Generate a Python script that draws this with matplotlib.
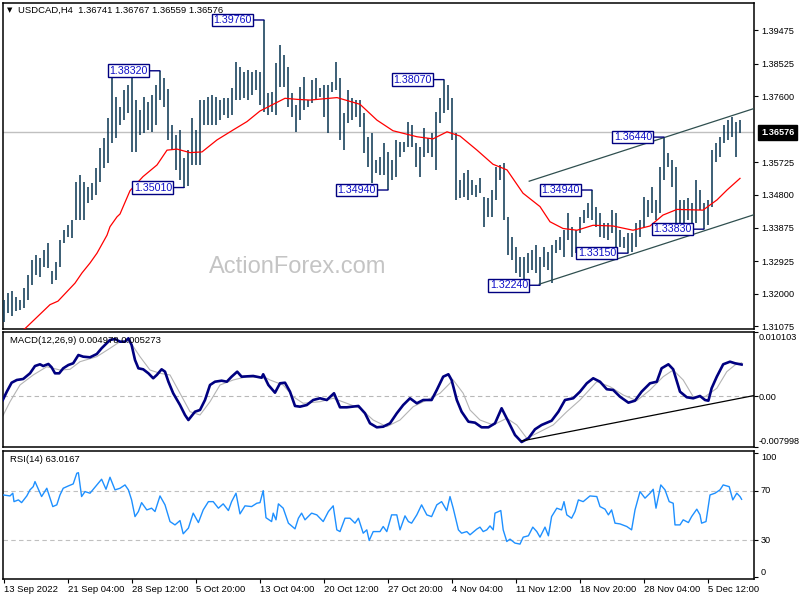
import numpy as np
import matplotlib
matplotlib.use("Agg")
import matplotlib.pyplot as plt
from matplotlib.transforms import blended_transform_factory

plt.rcParams['font.family'] = ['Liberation Sans', 'DejaVu Sans']

# ---------------- data ----------------
symbol = "USDCAD,H4"
last_ohlc = [1.36741, 1.36767, 1.36559, 1.36576]

# price bars (each = two H4 bars), prices in 1/10000
high_pips = [13182, 13202, 13208, 13191, 13182, 13216, 13253, 13295, 13310, 13301,
             13324, 13344, 13264, 13290, 13352, 13380, 13395, 13409, 13517, 13536,
             13517, 13502, 13514, 13556, 13613, 13641, 13698, 13811, 13758, 13729,
             13777, 13792, 13820, 13749, 13721, 13758, 13743, 13763, 13792, 13832,
             13811, 13780, 13678, 13650, 13664, 13585, 13607, 13698, 13664, 13749,
             13749, 13758, 13763, 13758, 13749, 13755, 13755, 13783, 13857, 13843,
             13828, 13834, 13828, 13834, 13828, 13976, 13769, 13772, 13854, 13905,
             13877, 13843, 13769, 13735, 13786, 13814, 13749, 13806, 13811, 13783,
             13792, 13792, 13800, 13857, 13811, 13712, 13777, 13755, 13749, 13749,
             13712, 13644, 13655, 13579, 13587, 13627, 13602, 13579, 13636, 13630,
             13630, 13687, 13678, 13627, 13616, 13670, 13641, 13655, 13715, 13755,
             13807, 13792, 13755, 13655, 13522, 13542, 13551, 13522, 13508, 13528,
             13474, 13471, 13494, 13559, 13565, 13570, 13417, 13361, 13332, 13304,
             13304, 13315, 13324, 13338, 13304, 13332, 13318, 13338, 13352, 13361,
             13380, 13429, 13389, 13380, 13417, 13437, 13457, 13494, 13446, 13429,
             13400, 13400, 13437, 13429, 13380, 13361, 13372, 13372, 13400, 13409,
             13474, 13466, 13502, 13466, 13559, 13644, 13599, 13579, 13559, 13466,
             13466, 13471, 13457, 13522, 13494, 13457, 13466, 13607, 13627, 13644,
             13678, 13692, 13701, 13687, 13692]
low_pips = [13120, 13145, 13137, 13151, 13154, 13159, 13182, 13225, 13253, 13247,
            13276, 13273, 13227, 13239, 13276, 13344, 13361, 13358, 13409, 13409,
            13409, 13457, 13466, 13480, 13517, 13556, 13570, 13627, 13641, 13678,
            13692, 13712, 13602, 13602, 13650, 13655, 13664, 13658, 13678, 13749,
            13729, 13636, 13607, 13551, 13522, 13501, 13505, 13565, 13565, 13565,
            13678, 13678, 13678, 13678, 13692, 13707, 13698, 13707, 13749, 13749,
            13755, 13749, 13763, 13777, 13735, 13715, 13707, 13715, 13707, 13786,
            13786, 13729, 13701, 13658, 13692, 13721, 13729, 13741, 13749, 13758,
            13701, 13655, 13772, 13777, 13636, 13607, 13684, 13692, 13701, 13673,
            13599, 13559, 13514, 13542, 13536, 13536, 13494, 13522, 13531, 13587,
            13602, 13616, 13616, 13559, 13531, 13587, 13599, 13587, 13551, 13684,
            13712, 13721, 13636, 13466, 13471, 13474, 13466, 13480, 13474, 13485,
            13389, 13417, 13417, 13466, 13522, 13409, 13310, 13295, 13259, 13247,
            13233, 13259, 13267, 13259, 13224, 13276, 13267, 13230, 13315, 13324,
            13304, 13352, 13304, 13315, 13372, 13400, 13415, 13409, 13389, 13361,
            13358, 13352, 13372, 13332, 13332, 13329, 13315, 13318, 13332, 13361,
            13389, 13417, 13429, 13409, 13429, 13522, 13559, 13502, 13400, 13395,
            13400, 13409, 13400, 13400, 13437, 13383, 13395, 13446, 13573, 13587,
            13627, 13636, 13644, 13587, 13656]

x_tick_idx = [0, 16, 32, 48, 64, 80, 96, 112, 128, 144, 160, 176]
x_tick_labels = ["13 Sep 2022", "21 Sep 04:00", "28 Sep 12:00", "5 Oct 20:00",
                 "13 Oct 04:00", "20 Oct 12:00", "27 Oct 20:00", "4 Nov 04:00",
                 "11 Nov 12:00", "18 Nov 20:00", "28 Nov 04:00", "5 Dec 12:00"]

price_ticks = [1.39475, 1.38525, 1.37600, 1.35725, 1.34800, 1.33875, 1.32925, 1.32000, 1.31075]
price_range = (1.3100, 1.4025)

# moving average (red)
ma_x = [4.5, 5.25, 11.5, 13.5, 17.75, 19.5, 21.5, 23.25, 25.75, 26.5,
        28.25, 29, 31.5, 34.75, 38.25, 40.75, 43.25, 46.5, 49.5, 53.25,
        57.25, 60.75, 64, 65.75, 70.25, 73.25, 76.5, 83.25, 89, 93.25,
        97.25, 103.25, 107.25, 110.75, 114, 118.25, 122.25, 125.75, 129.75, 134,
        136.5, 139.75, 143.25, 147.25, 152.25, 157.25, 161.5, 164.75, 168.25, 174.75,
        178.25, 180.75, 184]
ma_pips = [13097, 13101, 13169, 13179, 13230, 13259, 13287, 13315, 13366, 13390,
           13418, 13426, 13492, 13532, 13565, 13607, 13610, 13600, 13602, 13636,
           13664, 13688, 13718, 13728, 13754, 13751, 13749, 13756, 13737, 13692,
           13662, 13645, 13639, 13659, 13647, 13607, 13567, 13551, 13485, 13447,
           13404, 13385, 13380, 13394, 13392, 13380, 13392, 13423, 13439, 13437,
           13466, 13494, 13527]

# swing labels
pivot_idx = [65, 39, 45, 110, 96, 134, 147, 156, 165, 175]
pivot_price = [1.39760, 1.38320, 1.35010, 1.38070, 1.34940, 1.32240, 1.34940, 1.33150, 1.36440, 1.33830]

# channel lines
chan_upper_x = [131.3, 187.5]
chan_upper_y = [1.3519, 1.3725]
chan_lower_x = [133.8, 187.5]
chan_lower_y = [1.3227, 1.3424]

# MACD
macd_x = [-0.3, 0.7, 1.9, 3.2, 4.8, 6.5, 7.75, 9, 9.8, 11.1,
          11.9, 12.75, 13.8, 14.8, 16.1, 17.3, 18.6, 19.8, 21.5, 23.2,
          24.4, 26.5, 27.75, 29, 30.25, 31.1, 31.9, 32.75, 33.6, 34.8,
          36.1, 37.3, 38.2, 39.4, 40.25, 41.1, 42.3, 44, 45.25, 46.1,
          46.9, 47.75, 49, 50.25, 51.5, 52.75, 54.4, 55.7, 56.9, 58.3,
          59.4, 62.3, 64.4, 64.8, 66.1, 67.75, 69, 70.25, 71.5, 72.75,
          74, 75.7, 77.3, 79, 80.7, 82.5, 84, 85.7, 88.6, 90.25,
          91.5, 93.2, 94.8, 96.5, 98.2, 99.8, 101.5, 103.2, 104.8, 106.9,
          108.2, 109.8, 111.1, 111.9, 113.2, 114.4, 116.1, 117.75, 119.4, 121.1,
          122.75, 124.4, 126.1, 127.75, 129.4, 131.1, 132.75, 134.4, 136.9, 138.6,
          140.25, 142.3, 144, 145.7, 147.3, 149, 150.7, 152.3, 154, 156.1,
          157.75, 159.4, 161.5, 163.2, 164.4, 166.1, 167.3, 169, 170.7, 172.3,
          174, 175.25, 176.1, 176.9, 178.2, 179.8, 181.5, 182.75, 184.4]
macd_main = [-0.00060, 0.00071, 0.00212, 0.00255, 0.00271, 0.00360, 0.00475, 0.00502, 0.00475, 0.00507,
             0.00455, 0.00360, 0.00360, 0.00439, 0.00491, 0.00518, 0.00648, 0.00622, 0.00612, 0.00664,
             0.00754, 0.00885, 0.00900, 0.00858, 0.00858, 0.00911, 0.00806, 0.00570, 0.00439, 0.00423,
             0.00360, 0.00282, 0.00334, 0.00423, 0.00386, 0.00228, 0.00046, -0.00139, -0.00296, -0.00375,
             -0.00312, -0.00244, -0.00217, -0.00060, 0.00176, 0.00228, 0.00244, 0.00228, 0.00307, 0.00386,
             0.00307, 0.00318, 0.00291, 0.00345, 0.00176, 0.00055, 0.00203, 0.00212, 0.00071, -0.00154,
             -0.00165, -0.00139, -0.00060, -0.00033, -0.00060, 0.00046, -0.00175, -0.00175, -0.00154, -0.00269,
             -0.00427, -0.00490, -0.00480, -0.00427, -0.00269, -0.00139, -0.00033, -0.00112, -0.00060, -0.00060,
             0.00098, 0.00307, 0.00345, 0.00255, -0.00060, -0.00244, -0.00401, -0.00417, -0.00490, -0.00490,
             -0.00427, -0.00190, -0.00401, -0.00611, -0.00721, -0.00663, -0.00521, -0.00453, -0.00386, -0.00244,
             -0.00060, -0.00033, 0.00071, 0.00203, 0.00282, 0.00228, 0.00109, 0.00098, -0.00008, -0.00102,
             -0.00071, 0.00071, 0.00203, 0.00228, 0.00439, 0.00502, 0.00423, 0.00071, -0.00017, -0.00033,
             0.00003, -0.00060, -0.00071, 0.00124, 0.00307, 0.00502, 0.00543, 0.00518, 0.00498]
sig_x = [-0.3, 1.5, 4, 7.3, 10.7, 14, 16.5, 19, 23.2, 26.5,
         29, 31.5, 34, 36.5, 39, 41.5, 44, 46.5, 49, 51.5,
         54, 57.3, 60.7, 65.7, 66.5, 69.8, 72.3, 74.8, 79, 82.3,
         85.7, 89, 92.3, 95.7, 99, 102.3, 105.7, 109, 112.3, 114.8,
         116.5, 119, 122.3, 125.7, 128.2, 130.7, 134, 137.3, 140.7, 144,
         148.2, 151.5, 154.8, 158.2, 161.5, 164.8, 167.3, 169.8, 172.3, 175.25,
         178.2, 180.7, 182.75, 184.4]
macd_signal = [-0.00312, -0.00087, 0.00176, 0.00334, 0.00464, 0.00412, 0.00423, 0.00543, 0.00622, 0.00754,
               0.00858, 0.00858, 0.00622, 0.00412, 0.00360, 0.00334, 0.00046, -0.00244, -0.00296, -0.00087,
               0.00176, 0.00255, 0.00307, 0.00282, 0.00255, 0.00176, -0.00008, -0.00112, -0.00087, -0.00033,
               -0.00112, -0.00190, -0.00375, -0.00480, -0.00375, -0.00165, -0.00060, 0.00046, 0.00255, 0.00046,
               -0.00217, -0.00375, -0.00453, -0.00348, -0.00453, -0.00663, -0.00559, -0.00453, -0.00244, -0.00060,
               0.00228, 0.00150, 0.00019, -0.00071, 0.00098, 0.00307, 0.00412, 0.00255, -0.00008, -0.00008,
               0.00124, 0.00386, 0.00491, 0.00527]
macd_last = [0.004978, 0.005273]
macd_range = (-0.007998, 0.010103)
macd_trend_x = [129.4, 187.5]
macd_trend_y = [-0.00705, 0.0001]

# RSI
rsi_x = [-0.2, 1.5, 2.2, 2.5, 3.6, 4.4, 5.7, 6.5, 7.3, 7.75,
         8.3, 9.4, 10.7, 11.5, 12.2, 13.2, 14, 14.8, 16.1, 17.3,
         18.2, 18.6, 19.4, 20.25, 21.5, 23.2, 24.4, 25.5, 26.5, 27.75,
         29, 30.25, 31.1, 31.9, 32.75, 33.6, 34.4, 35.7, 36.9, 37.75,
         39, 40.25, 41.5, 42.75, 44, 44.8, 46.1, 47.3, 48.6, 49.8,
         51.1, 52.3, 53.6, 54.8, 56.1, 56.9, 58, 59, 60.25, 61.9,
         63.2, 64, 64.8, 65.5, 66.9, 67.3, 68, 68.6, 69.8, 71.1,
         72.75, 73.6, 74.4, 75.25, 76.9, 78.2, 79.8, 81.1, 82.3, 83.2,
         84, 85.25, 86.5, 87.75, 88.6, 89.8, 90.7, 91.3, 92.3, 94,
         94.8, 95.7, 96.9, 98.2, 99, 100.25, 101.1, 101.9, 103.2, 104.4,
         105.7, 106.9, 108.2, 109.4, 110.7, 111.5, 112.3, 113.6, 114.4, 115.7,
         116.5, 118.2, 119, 119.8, 120.7, 121.5, 122.3, 122.75, 124.2, 124.8,
         125.7, 126.5, 127.75, 129, 129.8, 131.1, 132.2, 133.2, 134, 135.25,
         136.1, 136.9, 138.2, 139.4, 140, 140.7, 141.9, 142.75, 143.6, 144.8,
         146.5, 148.2, 149, 150.25, 151.1, 151.9, 152.75, 154, 155.7, 156.9,
         157.75, 159, 160.25, 161.5, 162.3, 163, 164.2, 165.25, 166.3, 167.3,
         167.75, 169, 169.8, 171.1, 171.9, 173.2, 174, 174.4, 175.5, 176.5,
         177.75, 179, 179.8, 181.3, 182.2, 183.2, 184, 184.4]
rsi_vals = [66.5, 65.7, 67.9, 61.1, 62.5, 60.3, 65.7, 70.6, 73.2, 77.3,
            73.2, 65.2, 71.9, 63.9, 57.1, 58.5, 66.5, 71.9, 73.8, 75.4,
            84.0, 84.5, 65.2, 69.2, 67.9, 74.6, 79.2, 71.1, 80.8, 70.6,
            71.9, 74.6, 70.6, 62.5, 49.0, 53.1, 60.3, 54.4, 55.8, 53.1,
            65.7, 58.5, 45.0, 42.3, 45.8, 35.1, 39.7, 51.8, 44.2, 54.4,
            61.1, 61.1, 55.8, 59.3, 53.9, 61.1, 67.9, 51.2, 57.7, 57.1,
            59.8, 60.3, 70.0, 48.1, 45.0, 51.8, 46.4, 59.3, 55.8, 43.7,
            39.1, 47.7, 51.8, 46.4, 51.8, 50.4, 45.0, 53.1, 57.7, 38.3,
            36.9, 47.7, 47.7, 43.7, 47.7, 35.6, 38.3, 29.7, 36.9, 36.9,
            41.0, 36.9, 50.4, 50.4, 38.3, 49.6, 45.0, 43.7, 50.4, 58.5,
            50.4, 49.0, 58.5, 61.1, 53.9, 65.2, 55.8, 38.3, 35.6, 36.9,
            34.3, 38.9, 40.5, 36.9, 38.3, 41.5, 38.3, 51.8, 53.9, 38.3,
            28.9, 30.8, 27.6, 26.8, 32.4, 33.5, 40.5, 36.9, 32.4, 40.5,
            33.5, 49.0, 55.8, 54.4, 61.1, 50.4, 47.7, 53.1, 62.5, 61.1,
            65.7, 65.2, 57.1, 55.0, 50.4, 54.4, 43.7, 43.1, 41.0, 38.3,
            54.4, 69.2, 63.9, 67.9, 71.1, 55.8, 74.6, 70.6, 61.1, 59.8,
            42.3, 42.3, 46.4, 44.2, 49.0, 55.0, 50.4, 43.7, 45.0, 66.5,
            67.9, 70.6, 74.6, 73.2, 62.5, 67.9, 65.2, 63.0]
rsi_last = 63.0167
rsi_levels = [70, 30]
rsi_ticks = [100, 70, 30, 0]

# ---------------- figure ----------------
W, H = 800, 600
fig = plt.figure(figsize=(8, 6), dpi=100)
fig.patch.set_facecolor('white')


def rect(x0, y0, x1, y1):
    return [x0 / W, 1 - y1 / H, (x1 - x0) / W, (y1 - y0) / H]


ax1 = fig.add_axes(rect(2.5, 2.7, 754, 329))
ax2 = fig.add_axes(rect(2.5, 332, 754, 447))
ax3 = fig.add_axes(rect(2.5, 451, 754, 578.5))

FS = 6.6
for ax in (ax1, ax2, ax3):
    ax.set_xlim(-0.375, 187.5)
    for s in ax.spines.values():
        s.set_linewidth(1.1)
        s.set_color('black')
    ax.yaxis.tick_right()
    ax.tick_params(axis='x', bottom=False, labelbottom=False)
    ax.tick_params(axis='y', direction='out', length=3, width=0.8, pad=2.5,
                   labelsize=FS, colors='black')
    ax.set_facecolor('white')

# ---- main price panel ----
bars_x = np.arange(len(high_pips))
highs = np.array(high_pips) / 1e4
lows = np.array(low_pips) / 1e4
ax1.set_ylim(*price_range)
ax1.axhline(last_ohlc[3], color='#c0c0c0', lw=1.0, zorder=1)
ax1.vlines(bars_x, lows, highs, color='#113c58', lw=1.15, zorder=3)
ax1.plot(ma_x, np.array(ma_pips) / 1e4, color='#ff0000', lw=0.9, zorder=4)
ax1.plot(chan_upper_x, chan_upper_y, color='#2f4f4f', lw=0.9, zorder=4)
ax1.plot(chan_lower_x, chan_lower_y, color='#2f4f4f', lw=0.9, zorder=4)

ax1.set_yticks(price_ticks)
ax1.set_yticklabels([f"{v:.5f}" for v in price_ticks])

blend1 = blended_transform_factory(ax1.transAxes, ax1.transData)
ax1.annotate(f"{last_ohlc[3]:.5f}", xy=(1.0, last_ohlc[3]), xycoords=blend1,
             xytext=(7, 0), textcoords='offset pixels', ha='left', va='center',
             fontsize=FS, color='white', fontweight='bold',
             bbox=dict(boxstyle='square,pad=0.32', fc='black', ec='black'),
             annotation_clip=False, zorder=10)

for j, p in zip(pivot_idx, pivot_price):
    ax1.annotate(f"{p:.5f}", xy=(j, p), xycoords='data',
                 xytext=(-12, 0), textcoords='offset pixels', ha='right', va='center',
                 fontsize=7.7, color='#1010c8',
                 bbox=dict(boxstyle='square,pad=0.12', fc='white', ec='#000080', lw=1.0),
                 arrowprops=dict(arrowstyle='-', color='#000080', lw=1.0,
                                 shrinkA=0, shrinkB=0),
                 zorder=8)

fig.text(7 / W, 1 - 10.5 / H, "\u25BC", fontsize=5, va='center', ha='left',
         color='black', family=['DejaVu Sans'])
fig.text(18 / W, 1 - 10.5 / H,
         f"{symbol}  " + " ".join(f"{v:.5f}" for v in last_ohlc),
         fontsize=6.8, va='center', ha='left', color='black')
fig.text(298 / W, 1 - 267 / H, "ActionForex.com", fontsize=17, color='#c4c4c4',
         ha='center', va='center', zorder=0)

# ---- MACD panel ----
ax2.set_ylim(*macd_range)
ax2.axhline(0, color='#b8b8b8', lw=0.8, ls=(0, (4, 3)), zorder=1)
ax2.plot(sig_x, macd_signal, color='#b4b4b4', lw=0.8, zorder=2)
ax2.plot(macd_x, macd_main, color='#000080', lw=1.9, zorder=3)
ax2.plot(macd_trend_x, macd_trend_y, color='black', lw=0.9, zorder=4)
ax2.set_yticks([macd_range[1], 0.0, macd_range[0]])
ax2.set_yticklabels(['', '', ''])
blend2 = blended_transform_factory(ax2.transAxes, ax2.transData)
for v, lab, dy in [(macd_range[1], f"{macd_range[1]:.6f}", -5),
                   (0.0, "0.00", -1),
                   (macd_range[0], f"{macd_range[0]:.6f}", 6)]:
    ax2.annotate(lab, xy=(1.0, v), xycoords=blend2, xytext=(5, dy),
                 textcoords='offset pixels', ha='left', va='center',
                 fontsize=FS, color='black', annotation_clip=False)
ax2.text(7 / 751.5, 1 - 8.7 / 115,
         f"MACD(12,26,9) {macd_last[0]:.6f} {macd_last[1]:.6f}",
         transform=ax2.transAxes, fontsize=6.8, va='center', ha='left', color='black')

# ---- RSI panel ----
ax3.set_ylim(-1, 102)
for lv in rsi_levels:
    ax3.axhline(lv, color='#c0c0c0', lw=0.8, ls=(0, (4, 3)), zorder=1)
ax3.plot(rsi_x, rsi_vals, color='#1e90ff', lw=1.0, zorder=3)
ax3.set_yticks(rsi_ticks)
ax3.set_yticklabels(['', '', '', ''])
blend3 = blended_transform_factory(ax3.transAxes, ax3.transData)
for v, dy in zip(rsi_ticks, [-4, 0, 0, 5]):
    ax3.annotate(str(v), xy=(1.0, v), xycoords=blend3, xytext=(7, dy),
                 textcoords='offset pixels', ha='left', va='center',
                 fontsize=FS, color='black', annotation_clip=False)
ax3.text(7 / 751.5, 1 - 8.3 / 127.5, f"RSI(14) {rsi_last:.4f}",
         transform=ax3.transAxes, fontsize=6.8, va='center', ha='left', color='black')

ax3.set_xticks(x_tick_idx)
ax3.set_xticklabels(x_tick_labels)
ax3.tick_params(axis='x', bottom=True, labelbottom=True, direction='out',
                length=3, width=0.8, pad=1.5, labelsize=6.8)
for lab in ax3.get_xticklabels():
    lab.set_ha('left')

fig.savefig("out.png", dpi=100)
